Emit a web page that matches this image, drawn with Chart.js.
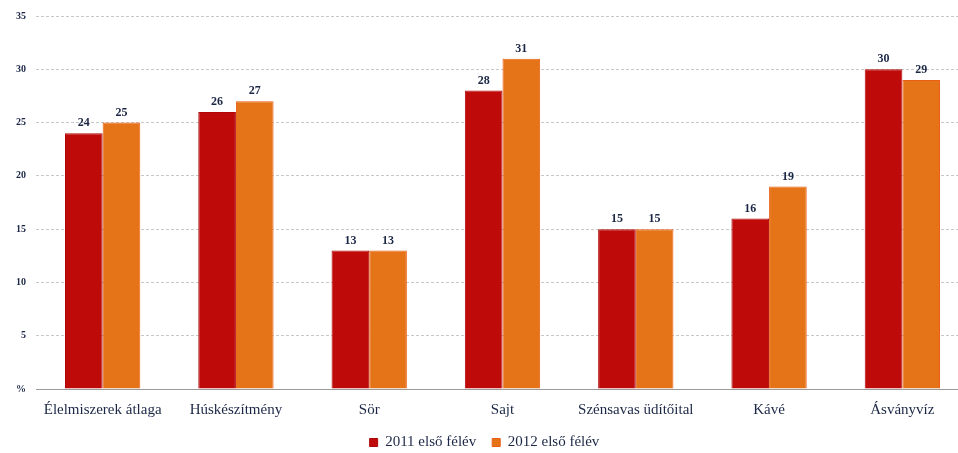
<!DOCTYPE html>
<html>
<head>
<meta charset="utf-8">
<script src="https://cdn.jsdelivr.net/npm/chart.js@4"></script>
<style>
html,body{margin:0;padding:0;background:#fff;overflow:hidden;width:958px;height:453px;}
#wrap{position:absolute;left:0;top:0;width:990px;height:453px;}
</style>
</head>
<body>
<div id="wrap"><canvas id="c" width="990" height="453"></canvas></div>
<script>
const categories = ["Élelmiszerek átlaga","Húskészítmény","Sör","Sajt","Szénsavas üdítőital","Kávé","Ásványvíz"];
const seriesNames = ["2011 első félév","2012 első félév"];
const values2011 = [24,26,13,28,15,16,30];
const values2012 = [25,27,13,31,15,19,29];
const yTicks = [0,5,10,15,20,25,30,35];

const textColor = '#1b2745';
const serif = "'Liberation Serif', 'DejaVu Serif', serif";

const labelPlugin = {
  id: 'barLabels',
  afterDatasetsDraw(chart) {
    const ctx = chart.ctx;
    ctx.save();
    ctx.font = "bold 12px " + serif;
    ctx.fillStyle = textColor;
    ctx.textAlign = 'center';
    ctx.textBaseline = 'bottom';
    chart.data.datasets.forEach((ds, i) => {
      const meta = chart.getDatasetMeta(i);
      meta.data.forEach((bar, j) => {
        ctx.fillText(String(ds.data[j]), bar.x, bar.y - 4);
      });
    });
    ctx.restore();
  }
};

new Chart(document.getElementById('c'), {
  type: 'bar',
  data: {
    labels: categories,
    datasets: [
      {label: seriesNames[0], data: values2011, backgroundColor: '#bf0a0a', borderColor: '#b00808', borderWidth: 1},
      {label: seriesNames[1], data: values2012, backgroundColor: '#e57317', borderColor: '#ea5f14', borderWidth: 1}
    ]
  },
  options: {
    responsive: false,
    animation: false,
    devicePixelRatio: 1,
    layout: {padding: {top: 10, right: 21, left: 0, bottom: -7}},
    datasets: {bar: {barPercentage: 1, categoryPercentage: 0.565}},
    plugins: {
      legend: {
        position: 'bottom',
        fullSize: true,
        labels: {
          boxWidth: 8, boxHeight: 8, padding: 16,
          color: textColor,
          font: {family: serif, size: 15}
        }
      },
      tooltip: {enabled: false}
    },
    scales: {
      x: {
        grid: {display: false, drawTicks: false},
        border: {display: true, color: '#9a9a9a', width: 1},
        ticks: {color: textColor, font: {family: serif, size: 15}, padding: 12, maxRotation: 0, autoSkip: false},
        afterFit(s) { s.height = 30; }
      },
      y: {
        min: 0, max: 35,
        afterBuildTicks(s) { s.ticks = yTicks.map(v => ({value: v})); },
        grid: {color: '#c8c8c8', lineWidth: 1, drawTicks: false},
        border: {display: false, dash: [3,2]},
        ticks: {color: textColor, font: {family: serif, size: 10, weight: 'bold'}, padding: 10,
          callback: v => v === 0 ? '%' : String(v)},
        afterFit(s) { s.width = 36; }
      }
    }
  },
  plugins: [labelPlugin]
});
</script>
</body>
</html>
